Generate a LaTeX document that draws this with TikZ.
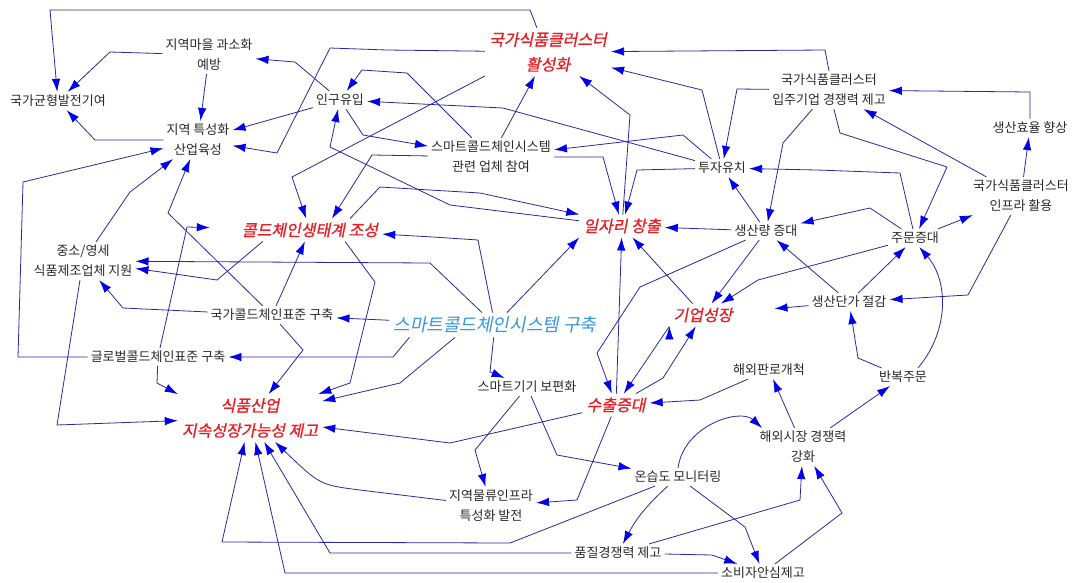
\documentclass[tikz,border=0pt]{standalone}
\usepackage{fontspec}
\setmainfont{Noto Sans CJK KR}
\newfontfamily\slantkr[FakeSlant=0.2,FakeBold=1]{Noto Sans CJK KR}
\newfontfamily\slantlt[FakeSlant=0.2]{Noto Sans CJK KR}
\usetikzlibrary{arrows.meta}
\definecolor{linkc}{RGB}{40,40,160}
\definecolor{tipc}{RGB}{0,0,235}
\definecolor{hotc}{RGB}{232,30,36}
\definecolor{corec}{RGB}{52,150,220}
\definecolor{txtc}{RGB}{40,40,40}

\begin{document}
\begin{tikzpicture}[x=1pt,y=-1pt]
      \tikzset{
        lbl/.style={text=txtc,align=center,inner sep=3pt,font=\fontsize{13}{20}\selectfont},
        hot/.style={text=hotc,align=center,inner sep=4pt,font=\slantkr\fontsize{16}{25}\selectfont},
        core/.style={text=corec,inner sep=4pt,font=\slantlt\fontsize{18}{20}\selectfont},
        lnk/.style={draw=linkc,line width=0.8pt,-{Latex[length=13pt,width=8.5pt,color=tipc]}}
      }
      \useasboundingbox (0,0) rectangle (1073,582);

      \node[lbl] (bal) at (58,101) {국가균형발전기여};
      \node[lbl] (maeul) at (209,55) {지역마을 과소화\\예방};
      \node[lbl] (tuk) at (198,140) {지역 특성화\\산업육성};
      \node[lbl] (ingu) at (340,100) {인구유입};
      \node[hot] (hwal) at (548,52) {국가식품클러스터\\활성화};
      \node[lbl] (chamyeo) at (491,157) {스마트콜드체인시스템\\관련 업체 참여};
      \node[lbl] (ipju) at (829,90) {국가식품클러스터\\입주기업 경쟁력 제고};
      \node[lbl] (hyoyul) at (1030,128) {생산효율 향상};
      \node[lbl] (tuja) at (722,168) {투자유치};
      \node[lbl] (infra) at (1021,196) {국가식품클러스터\\인프라 활용};
      \node[hot] (ilja) at (622,226) {일자리 창출};
      \node[lbl] (saengsan) at (766,231) {생산량 증대};
      \node[lbl] (jumun) at (915,238) {주문증대};
      \node[hot] (saengtae) at (310,230) {콜드체인생태계 조성};
      \node[lbl] (jungso) at (83,261) {중소/영세\\식품제조업체 지원};
      \node[lbl] (danga) at (849,302) {생산단가 절감};
      \node[hot] (giup) at (703,315) {기업성장};
      \node[lbl] (gukga) at (272,315) {국가콜드체인표준 구축};
      \node[core] (smart) at (495,325) {스마트콜드체인시스템 구축};
      \node[lbl] (global) at (158,357) {글로벌콜드체인표준 구축};
      \node[lbl] (panro) at (769,370) {해외판로개척};
      \node[lbl] (banbok) at (903,377) {반복주문};
      \node[lbl] (gigi) at (527,387) {스마트기기 보편화};
      \node[hot] (suchul) at (616,405) {수출증대};
      \node[hot] (sikpum) at (250,418) {식품산업\\지속성장가능성 제고};
      \node[lbl] (haeoe) at (803,447) {해외시장 경쟁력\\강화};
      \node[lbl] (onsup) at (678,477) {온습도 모니터링};
      \node[lbl] (mulryu) at (491,506) {지역물류인프라\\특성화 발전};
      \node[lbl] (pumjil) at (618,553) {품질경쟁력 제고};
      \node[lbl] (sobi) at (763,573) {소비자안심제고};

      \draw[lnk] (maeul) edge (tuk)
            (ingu) edge (tuk)
            (chamyeo) edge (hwal)
            (infra) edge (ipju)
            (infra) edge (hyoyul)
            (jumun) edge (infra)
            (saengsan) edge (ilja)
            (saengsan) edge (tuja)
            (saengsan) edge (giup)
            (danga) edge[shorten >=38pt] (giup)
            (danga) edge (saengsan)
            (danga) edge (jumun)
            (haeoe) edge (banbok)
            (haeoe) edge (panro)
            (gukga) edge (saengtae)
            (smart) edge (gukga)
            (smart) edge (ilja.south west)
            (suchul) edge (ilja)
            (giup) edge (ilja)
            (giup.south west) edge (suchul);

      \draw[lnk] ([xshift=-11pt]hwal.north) -- (530,10) -- (50,10) -- (bal);
      \draw[lnk] (maeul) -- (110,52) -- (bal);
      \draw[lnk] (tuk) -- (95,140) -- (bal);
      \draw[lnk] (ingu) -- (295,62) -- (maeul);
      \draw[lnk] (hwal) -- (387,50) -- (330,48) -- (277,153) -- (tuk);
      \draw[lnk] (chamyeo) -- (407,73) -- (362,70) -- (ingu);
      \draw[lnk] (tuja) -- (503,108) -- (ingu);
      \draw[lnk] (ilja) -- (450,205) -- (330,147) -- (ingu);
      \draw[lnk] ([xshift=40pt]saengtae.north) -- (380,187) -- (480,193) -- (ilja.north west);
      \draw[lnk] (ingu) -- (363,135) -- (chamyeo);
      \draw[lnk] (chamyeo) -- (372,155) -- ([xshift=22pt]saengtae.north);
      \draw[lnk] (hwal.south west) -- (292,177) -- (saengtae);
      \draw[lnk] (ipju.north) -- (825,50) -- (hwal);
      \draw[lnk] (tuja) -- (702,90) -- (hwal);
      \draw[lnk] (ilja) -- (630,115) -- (hwal);
      \draw[lnk] (ipju) -- (737,89) -- (tuja);
      \draw[lnk] (ipju) -- (783,143) -- (saengsan);
      \draw[lnk] (ipju) -- (840,133) -- (947,167) -- (jumun);
      \draw[lnk] (jumun) -- (900,173) -- (817,170) -- (tuja);
      \draw[lnk] (hyoyul) -- (1030,92) -- (ipju);
      \draw[lnk] (infra) -- (968,295) -- (danga);
      \draw[lnk] (jumun) -- (870,208) -- (saengsan);
      \draw[lnk] (saengsan) -- (640,287) -- (597,353) -- (suchul);
      \draw[lnk] (jumun) -- (758,280) -- (giup);
      \draw[lnk] (banbok) -- (858,358) -- (danga);
      \draw[lnk] ([xshift=15pt]banbok.north) .. controls (950,330) and (948,280) .. (jumun.-65);
      \draw[lnk] (panro) -- (700,400) -- (suchul);
      \draw[lnk] (onsup.north) .. controls (684,425) and (740,408) .. (haeoe.155);
      \draw[lnk] (pumjil) -- (800,500) -- (haeoe);
      \draw[lnk] (sobi) -- (842,513) -- (haeoe);
      \draw[lnk] (onsup) -- (745,527) -- (sobi);
      \draw[lnk] (onsup) to[bend right=10] (pumjil);
      \draw[lnk] (pumjil) -- (712,555) -- (sobi);
      \draw[lnk] (onsup) -- (510,543) -- (222,542) -- (sikpum);
      \draw[lnk] (pumjil) -- (330,553) -- (sikpum);
      \draw[lnk] (sobi) -- (285,573) -- (sikpum);
      \draw[lnk] (mulryu) -- (360,490) .. controls (320,485) .. (sikpum);
      \draw[lnk] (global) -- (157,383) -- (sikpum.north west);
      \draw[lnk] (jungso) -- (57,425) -- (sikpum);
      \draw[lnk] (global) -- (18,357) -- (23,182) -- (tuk);
      \draw[lnk,shorten >=28pt] (global) -- (187,227) -- (saengtae);
      \draw[lnk] (smart) -- (430,263) -- (jungso);
      \draw[lnk] ([xshift=25pt]saengtae.south west) -- (217,280) -- (jungso);
      \draw[lnk] (gukga) -- (123,308) -- (jungso);
      \draw[lnk] (gukga) -- (303,350) -- (sikpum);
      \draw[lnk] (gukga) -- (168,213) -- (tuk);
      \draw[lnk] (jungso) -- (130,192) -- (tuk);
      \draw[lnk] (smart) -- (478,240) -- (433,237) -- (saengtae);
      \draw[lnk] ([xshift=20pt]smart.south west) -- (393,357) -- (global);
      \draw[lnk] ([xshift=-40pt]smart.south) -- (400,383) -- (sikpum);
      \draw[lnk] ([xshift=35pt]saengtae.south) -- (375,282) -- (350,383) -- (sikpum);
      \draw[lnk] (suchul) -- (450,443) -- (sikpum);
      \draw[lnk] (smart) -- (490,372) -- (gigi);
      \draw[lnk] (chamyeo) -- (603,157) -- (ilja);
      \draw[lnk] (tuja) -- (637,170) -- (ilja);
      \draw[lnk] (tuja) -- (683,135) -- (chamyeo);
      \draw[lnk] (gigi) -- (475,450) -- (mulryu);
      \draw[lnk] (gigi) -- (557,455) -- (onsup);
      \draw[lnk] (suchul) -- (577,500) -- (mulryu);
      \draw[lnk] (suchul) -- (663,378) -- (giup);
    \end{tikzpicture}
\end{document}
